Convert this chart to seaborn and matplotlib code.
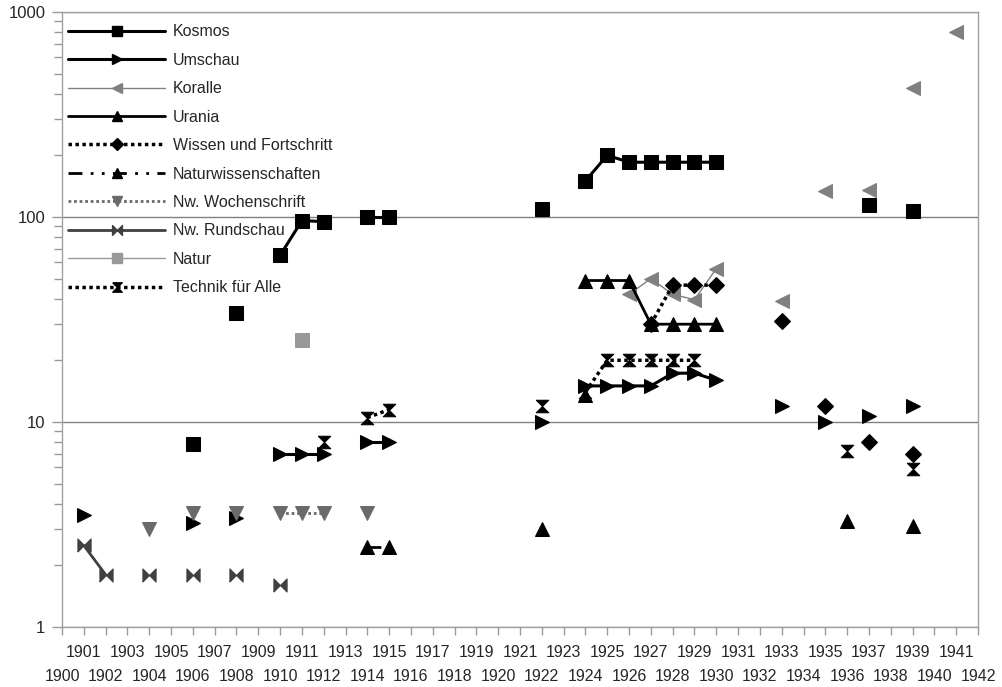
import matplotlib
matplotlib.use("Agg")
import matplotlib.pyplot as plt
from matplotlib.lines import Line2D
from matplotlib.ticker import FixedLocator, LogLocator, NullFormatter
import seaborn as sns

# Jahre auf der Kategorienachse
years = list(range(1900, 1943))

# Werte je Zeitschrift (Jahr, Wert)
kosmos_x = [1906, 1908, 1910, 1911, 1912, 1914, 1915, 1922, 1924, 1925, 1926, 1927, 1928, 1929, 1930, 1937, 1939]
kosmos_y = [7.8, 34, 65, 96, 95, 100, 100, 110, 150, 200, 185, 185, 185, 185, 185, 114, 107]

umschau_x = [1901, 1906, 1908, 1910, 1911, 1912, 1914, 1915, 1922, 1924, 1925, 1926, 1927, 1928, 1929, 1930,
             1933, 1935, 1937, 1939]
umschau_y = [3.5, 3.2, 3.4, 7, 7, 7, 8, 8, 10, 15, 15, 15, 15, 17.3, 17.3, 16, 12, 10, 10.7, 12]

koralle_x = [1926, 1927, 1928, 1929, 1930, 1933, 1935, 1937, 1939, 1941]
koralle_y = [42, 50, 42, 39.5, 56, 39, 134, 135, 425, 800]

urania_x = [1924, 1925, 1926, 1927, 1928, 1929, 1930]
urania_y = [49, 49, 49, 30, 30, 30, 30]

wissen_x = [1927, 1928, 1929, 1930, 1933, 1935, 1937, 1939]
wissen_y = [30, 46.5, 46.5, 46.5, 31, 12, 8, 7]

naturwiss_x = [1914, 1915, 1922, 1924, 1936, 1939]
naturwiss_y = [2.45, 2.45, 3.0, 13.5, 3.3, 3.1]

wochen_x = [1904, 1906, 1908, 1910, 1911, 1912, 1914]
wochen_y = [3.0, 3.6, 3.6, 3.6, 3.6, 3.6, 3.6]

rundschau_x = [1901, 1902, 1904, 1906, 1908, 1910]
rundschau_y = [2.5, 1.8, 1.8, 1.8, 1.8, 1.6]

natur_x = [1911]
natur_y = [25]

technik_x = [1912, 1914, 1915, 1922, 1924, 1925, 1926, 1927, 1928, 1929, 1936, 1939]
technik_y = [8, 10.5, 11.5, 12, 14, 20, 20, 20, 20, 20, 7.2, 5.9]

# eigene Marker
bowtie = [(-1, -1), (-1, 1), (0, 0), (1, 1), (1, -1), (0, 0), (-1, -1)]
hourglass = [(-1, 1), (1, 1), (0, 0), (1, -1), (-1, -1), (0, 0), (-1, 1)]

series = [
    ("Kosmos", kosmos_x, kosmos_y, dict(color="black", lw=2.2, ls="-", marker="s", ms=10)),
    ("Umschau", umschau_x, umschau_y, dict(color="black", lw=2.2, ls="-", marker=">", ms=9.5)),
    ("Koralle", koralle_x, koralle_y, dict(color="#808080", lw=1.0, ls="-", marker="<", ms=9.5)),
    ("Urania", urania_x, urania_y, dict(color="black", lw=2.0, ls="-", marker="^", ms=9.5)),
    ("Wissen und Fortschritt", wissen_x, wissen_y,
     dict(color="black", lw=2.5, ls=(0, (1, 1)), marker="D", ms=8)),
    ("Naturwissenschaften", naturwiss_x, naturwiss_y,
     dict(color="black", lw=2.0, ls=(0, (5, 3, 1, 3, 1, 3)), marker="^", ms=9.5)),
    ("Nw. Wochenschrift", wochen_x, wochen_y,
     dict(color="#6a6a6a", lw=2.0, ls=(0, (1, 1)), marker="v", ms=9.5)),
    ("Nw. Rundschau", rundschau_x, rundschau_y,
     dict(color="#404040", lw=2.0, ls="-", marker=bowtie, ms=9.5)),
    ("Natur", natur_x, natur_y, dict(color="#999999", lw=1.0, ls="-", marker="s", ms=10)),
    ("Technik für Alle", technik_x, technik_y,
     dict(color="black", lw=2.5, ls=(0, (1, 1)), marker=hourglass, ms=9)),
]


def segments(xs, ys):
    """Zerlegt eine Reihe in zusammenhaengende Jahresstuecke."""
    out = [[[xs[0]], [ys[0]]]]
    for i in range(1, len(xs)):
        if xs[i] - xs[i - 1] == 1:
            out[-1][0].append(xs[i])
            out[-1][1].append(ys[i])
        else:
            out.append([[xs[i]], [ys[i]]])
    return out


sns.set_style("white")
plt.rcParams["font.family"] = ["Liberation Sans", "DejaVu Sans"]

fig = plt.figure(figsize=(10.02, 6.87), dpi=100)
ax = fig.add_axes([62 / 1002, 1 - 627 / 687, 916 / 1002, 615 / 687])

handles = []
for name, xs, ys, st in series:
    for sx, sy in segments(xs, ys):
        sns.lineplot(x=sx, y=sy, ax=ax, color=st["color"], lw=st["lw"], ls=st["ls"],
                     marker=st["marker"], ms=st["ms"], mec=st["color"], mfc=st["color"],
                     estimator=None, sort=False, legend=False)
    handles.append(Line2D([], [], color=st["color"], lw=st["lw"], ls=st["ls"],
                          marker=st["marker"], ms=st["ms"] * 0.75,
                          mec=st["color"], mfc=st["color"], label=name))

ax.set_yscale("log")
ax.set_ylim(1, 1000)
ax.set_xlim(1900, 1942)

ax.yaxis.set_major_locator(FixedLocator([1, 10, 100, 1000]))
ax.set_yticklabels(["1", "10", "100", "1000"])
ax.yaxis.set_minor_locator(LogLocator(base=10, subs=range(2, 10)))
ax.yaxis.set_minor_formatter(NullFormatter())

odd = [y for y in years if y % 2 == 1]
even = [y for y in years if y % 2 == 0]
ax.set_xticks(odd, labels=[str(y) for y in odd])
ax.set_xticks(even, labels=[str(y) for y in even], minor=True)

ax.tick_params(axis="x", which="both", direction="out", length=6, width=1,
               color="#999999", labelsize=11.5, bottom=True)
ax.tick_params(axis="x", which="major", pad=7)
ax.tick_params(axis="x", which="minor", pad=24.5)
ax.tick_params(axis="y", which="major", direction="out", length=7, width=1,
               color="#999999", labelsize=12, pad=5, left=True)
ax.tick_params(axis="y", which="minor", direction="out", length=5.5, width=1,
               color="#999999", left=True)

ax.grid(False)
ax.yaxis.grid(True, which="major", color="#808080", lw=1)
for sp in ax.spines.values():
    sp.set_color("#a0a0a0")
    sp.set_linewidth(1)
    sp.set_visible(True)

ax.legend(handles=handles, loc="upper left", bbox_to_anchor=(0.003, 0.985),
          frameon=False, fontsize=11.5, handlelength=6.1, handletextpad=0.45,
          labelspacing=0.84, borderaxespad=0, borderpad=0.2)

fig.savefig("out.png", dpi=100)
